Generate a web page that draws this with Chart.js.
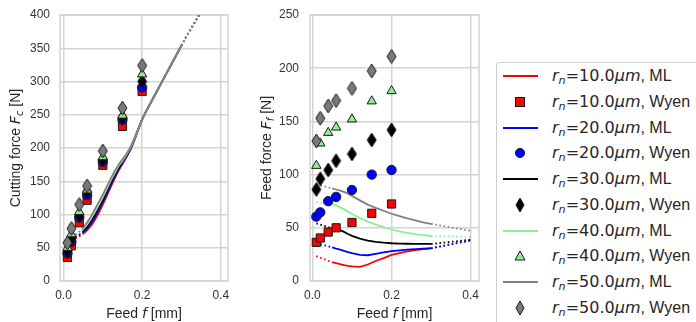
<!DOCTYPE html>
<html>
<head>
<meta charset="utf-8">
<script src="https://cdn.jsdelivr.net/npm/chart.js@4.4.1/dist/chart.umd.min.js"></script>
<style>
  html, body { margin: 0; padding: 0; background: #fff; }
  body { width: 696px; height: 322px; overflow: hidden; position: relative; font-family: 'Liberation Sans', Arial, sans-serif; }
  #fc { position: absolute; left: 0; top: 0; }
  #ff { position: absolute; left: 240px; top: 0; }
  #legend { position: absolute; left: 496px; top: 62px; width: 240px; height: 272px; border: 1px solid #cfcfcf; border-radius: 3px; background: #fff; color: #262626; }
  .row { position: absolute; left: 0; height: 24px; line-height: 24px; font-size: 16px; white-space: nowrap; }
  .key { position: absolute; left: 6px; top: 0; }
  .lab { position: absolute; left: 55px; top: 0; }
  .m { font-family: 'DejaVu Sans', sans-serif; }
  .lab sub { font-size: 70%; vertical-align: -0.3em; line-height: 0; }
</style>
</head>
<body>
<canvas id="fc" width="240" height="322"></canvas>
<canvas id="ff" width="250" height="322"></canvas>
<div id="legend"></div>

<script>
// ==================== DATA ====================

const radii = ['10.0', '20.0', '30.0', '40.0', '50.0'];

// Wyen model points (same feeds for every radius)
const feedWyen = [0.01, 0.02, 0.04, 0.06, 0.1, 0.15, 0.2];

const fcWyen10 = [35.5, 53, 87.5, 121.5, 174, 232.5, 285];
const fcWyen20 = [41.5, 59, 95.5, 129, 179, 242.5, 291];
const fcWyen30 = [45, 64, 99, 134, 182.5, 246, 300];
const fcWyen40 = [50, 70.5, 104, 136.5, 186.5, 249, 311];
const fcWyen50 = [57.5, 79, 115, 143, 195.5, 260, 324];

const ffWyen10 = [36.3, 40.4, 46, 50, 55, 63.6, 72.4];
const ffWyen20 = [60.5, 64.5, 75, 79, 85.5, 100, 104.3];
const ffWyen30 = [86, 96, 104.3, 113, 119.4, 132.5, 142];
const ffWyen40 = [108.4, 129.4, 139.4, 144.4, 152, 169, 178.6];
const ffWyen50 = [131.6, 153, 164.5, 169.5, 181, 197.4, 211];

// ML curves, cutting force
const feedMlFc = [0.03, 0.04, 0.05, 0.06, 0.07, 0.08, 0.09, 0.10, 0.11, 0.12, 0.13, 0.14, 0.15, 0.16, 0.17, 0.18, 0.19, 0.20,
  0.21, 0.22, 0.23, 0.24, 0.25, 0.26, 0.27, 0.28, 0.29, 0.30, 0.31, 0.32, 0.33, 0.34, 0.345];
const fcMl10 = [64, 67, 71, 76, 83, 92, 103, 115, 128, 141, 154, 166, 176, 186, 197, 211, 227, 243,
  255, 266, 277, 288, 299, 310, 321, 332, 343, 354, 365, 375, 385, 395, 400];
const fcMl20 = [65, 69, 73, 79, 86, 96, 107, 119, 131, 144, 157, 168, 178, 187, 198, 212, 228, 243,
  255, 266, 277, 288, 299, 310, 321, 332, 343, 354, 365, 375, 385, 395, 400];
const fcMl30 = [67, 70, 75, 82, 90, 100, 111, 122, 135, 148, 160, 170, 180, 189, 199, 213, 228, 243,
  255, 266, 277, 288, 299, 310, 321, 332, 343, 354, 365, 375, 385, 395, 400];
const fcMl40 = [68, 72, 78, 85, 94, 104, 115, 126, 138, 151, 162, 173, 181, 190, 200, 213, 228, 243,
  255, 266, 277, 288, 299, 310, 321, 332, 343, 354, 365, 375, 385, 395, 400];
const fcMl50 = [70, 74, 80, 88, 97, 108, 119, 130, 142, 154, 165, 175, 183, 191, 201, 214, 229, 243,
  255, 266, 277, 288, 299, 310, 321, 332, 343, 354, 365, 375, 385, 395, 400];

// ML curves, feed force
const feedMlFf = [0.01, 0.02, 0.03, 0.04, 0.05, 0.06, 0.07, 0.08, 0.09, 0.10, 0.12, 0.14, 0.16, 0.18, 0.20,
  0.22, 0.24, 0.26, 0.28, 0.30, 0.32, 0.34, 0.36, 0.38, 0.40];
const ffMl10 = [23.5, 22, 20.5, 19, 17.8, 16.8, 15.8, 15, 14.3, 13.8, 13.3, 15.5, 18.8, 21.5, 24.5,
  26.3, 27.8, 29, 30, 30.8, 32.3, 34, 35.5, 37, 38.5];
const ffMl20 = [35.4, 34.5, 33.6, 32.7, 31.6, 30.5, 29.5, 28.3, 27.2, 26.2, 24.6, 24.2, 25.5, 26.8, 28,
  28.8, 29.4, 29.9, 30.3, 30.7, 32.2, 33.7, 35.2, 36.6, 38];
const ffMl30 = [54.2, 53, 51.8, 50.6, 49.6, 48.8, 47.8, 46.2, 44.2, 42.4, 39.8, 38, 36.8, 36, 35.5,
  35.2, 35, 34.9, 34.8, 34.8, 35.6, 36.4, 37.2, 38, 38.8];
const ffMl40 = [73.8, 73.4, 73, 72.6, 72, 70.8, 69.2, 67.3, 65.2, 63, 59.2, 55.8, 53, 50.6, 48.4,
  46.6, 45.2, 44, 43.1, 42.3, 42.1, 41.9, 41.8, 41.7, 41.6];
const ffMl50 = [90.2, 89.6, 88.8, 88, 87, 86, 85, 83.7, 82, 80, 75.8, 71.8, 68.8, 66, 63.2,
  61, 58.8, 57, 55.2, 53.6, 52.3, 51, 49.7, 48.5, 47.3];

const xTicks = [0, 0.2, 0.4];

// ==================== STYLE ====================

const GRID = '#d4d4d4';
const TEXT = '#262626';
const EDGE = '#1a1a1a';
const lineColors = ['#ff0000', '#0000ff', '#000000', '#90ee90', '#808080'];
const markerFills = ['#ff0000', '#0000ff', '#000000', '#90ee90', '#7a7a7a'];

function thinDiamond(fill) {
  const c = document.createElement('canvas');
  c.width = 11; c.height = 16;
  const g = c.getContext('2d');
  g.beginPath();
  g.moveTo(5.5, 1); g.lineTo(10, 8); g.lineTo(5.5, 15); g.lineTo(1, 8);
  g.closePath();
  g.fillStyle = fill; g.fill();
  g.strokeStyle = EDGE; g.lineWidth = 1; g.stroke();
  return c;
}

const markerStyles = [
  { pointStyle: 'rect', radius: 5.8 },
  { pointStyle: 'circle', radius: 4.7 },
  { pointStyle: thinDiamond(markerFills[2]), radius: 5 },
  { pointStyle: 'triangle', radius: 5.4 },
  { pointStyle: thinDiamond(markerFills[4]), radius: 5 }
];

const dotted = ctx => (ctx.p1.parsed.x <= 0.05 || ctx.p0.parsed.x >= 0.3) ? [1.6, 2.6] : undefined;

function pts(xs, ys) {
  return xs.map((x, i) => ({ x: x, y: ys[i] }));
}

function mlSet(i, xs, ys) {
  return {
    label: 'rn=' + radii[i] + 'µm, ML',
    data: pts(xs, ys),
    showLine: true,
    pointRadius: 0,
    borderColor: lineColors[i],
    borderWidth: 1.8,
    segment: { borderDash: dotted },
    order: 20 - i
  };
}

function wyenSet(i, ys) {
  return {
    label: 'rn=' + radii[i] + 'µm, Wyen',
    data: pts(feedWyen, ys),
    showLine: false,
    pointStyle: markerStyles[i].pointStyle,
    pointRadius: markerStyles[i].radius,
    backgroundColor: markerFills[i],
    borderColor: EDGE,
    borderWidth: 1,
    order: 10 - i
  };
}

// ==================== TEXT HELPERS ====================

function partFont(p, size) {
  const s = p.sub ? size * 0.7 : size;
  return (p.i ? 'italic ' : '') + s + 'px ' + (p.m ? '"DejaVu Sans"' : '"Liberation Sans", Arial');
}

function drawRich(ctx, parts, size) {
  let w = 0;
  parts.forEach(p => { ctx.font = partFont(p, size); w += ctx.measureText(p.t).width; });
  let x = -w / 2;
  const base = size * 0.36;
  ctx.textBaseline = 'alphabetic';
  ctx.textAlign = 'left';
  parts.forEach(p => {
    ctx.font = partFont(p, size);
    ctx.fillText(p.t, x, p.sub ? base + size * 0.2 : base);
    x += ctx.measureText(p.t).width;
  });
}

const xTitle = [{ t: 'Feed ' }, { t: 'f', i: 1, m: 1 }, { t: ' [mm]' }];
const fcTitle = [{ t: 'Cutting force ' }, { t: 'F', i: 1, m: 1 }, { t: 'c', i: 1, m: 1, sub: 1 }, { t: ' [N]' }];
const ffTitle = [{ t: 'Feed force ' }, { t: 'F', i: 1, m: 1 }, { t: 'f', i: 1, m: 1, sub: 1 }, { t: ' [N]' }];

function framePlugin(yTitle, yTitleX) {
  return {
    id: 'frame',
    beforeDatasetsDraw(chart) {
      const { ctx, chartArea: a } = chart;
      ctx.save();
      ctx.strokeStyle = GRID;
      ctx.lineWidth = 1.5;
      ctx.strokeRect(a.left, a.top, a.right - a.left, a.bottom - a.top);
      ctx.restore();
    },
    afterDraw(chart) {
      const { ctx, chartArea: a } = chart;
      ctx.save();
      ctx.fillStyle = TEXT;
      ctx.translate((a.left + a.right) / 2, 313);
      drawRich(ctx, xTitle, 14);
      ctx.restore();
      ctx.save();
      ctx.fillStyle = TEXT;
      ctx.translate(yTitleX, (a.top + a.bottom) / 2);
      ctx.rotate(-Math.PI / 2);
      drawRich(ctx, yTitle, 14);
      ctx.restore();
    }
  };
}

function makeChart(id, datasets, opt) {
  return new Chart(document.getElementById(id), {
    type: 'scatter',
    data: { datasets: datasets },
    plugins: [framePlugin(opt.yTitle, opt.yTitleX)],
    options: {
      responsive: false,
      animation: false,
      devicePixelRatio: 1,
      layout: { padding: { left: 0, right: opt.padRight, top: 15, bottom: 0 } },
      plugins: { legend: { display: false }, tooltip: { enabled: false } },
      scales: {
        x: {
          type: 'linear',
          min: opt.xMin,
          max: opt.xMax,
          afterBuildTicks: s => { s.ticks = xTicks.map(v => ({ value: v })); },
          afterFit: s => { s.height = 41; s.paddingLeft = 0; s.paddingRight = 0; },
          grid: { color: GRID, lineWidth: 1.5, drawTicks: false },
          border: { display: false },
          ticks: {
            padding: 7,
            color: '#333',
            font: { family: 'Liberation Sans', size: 12 },
            callback: v => v.toFixed(1)
          }
        },
        y: {
          min: 0,
          max: opt.yMax,
          afterFit: s => { s.width = opt.yWidth; s.paddingTop = 0; s.paddingBottom = 0; },
          grid: { color: GRID, lineWidth: 1.5, drawTicks: false },
          border: { display: false },
          ticks: {
            stepSize: 50,
            padding: opt.tickPad,
            color: '#333',
            font: { family: 'Liberation Sans', size: 12 }
          }
        }
      }
    }
  });
}

// ==================== CHARTS ====================

const fcMl = [fcMl10, fcMl20, fcMl30, fcMl40, fcMl50];
const fcWyen = [fcWyen10, fcWyen20, fcWyen30, fcWyen40, fcWyen50];
const ffMl = [ffMl10, ffMl20, ffMl30, ffMl40, ffMl50];
const ffWyen = [ffWyen10, ffWyen20, ffWyen30, ffWyen40, ffWyen50];

const fcSets = [];
const ffSets = [];
for (let i = 0; i < radii.length; i++) {
  fcSets.push(mlSet(i, feedMlFc, fcMl[i]), wyenSet(i, fcWyen[i]));
  ffSets.push(mlSet(i, feedMlFf, ffMl[i]), wyenSet(i, ffWyen[i]));
}

makeChart('fc', fcSets, {
  xMin: -0.009, xMax: 0.4185, yMax: 400, yWidth: 60, padRight: 12, tickPad: 10,
  yTitle: fcTitle, yTitleX: 15
});
makeChart('ff', ffSets, {
  xMin: -0.006, xMax: 0.421, yMax: 250, yWidth: 70, padRight: 11, tickPad: 11,
  yTitle: ffTitle, yTitleX: 26
});

// ==================== LEGEND ====================

function keySvg(i, kind) {
  const c = lineColors[i];
  let shape;
  if (kind === 'line') {
    shape = `<line x1="0" y1="12" x2="35" y2="12" stroke="${c}" stroke-width="2"/>`;
  } else {
    const f = markerFills[i];
    const st = `fill="${f}" stroke="${EDGE}" stroke-width="1"`;
    if (i === 0) shape = `<rect x="12.5" y="7.5" width="9" height="9" ${st}/>`;
    else if (i === 1) shape = `<circle cx="17" cy="12" r="4.6" ${st}/>`;
    else if (i === 3) shape = `<polygon points="17,7 22,16 12,16" ${st}/>`;
    else shape = `<polygon points="17,5 21,12 17,19 13,12" ${st}/>`;
  }
  return `<svg width="36" height="24" viewBox="0 0 36 24">${shape}</svg>`;
}

const legend = document.getElementById('legend');
let html = '';
let row = 0;
for (let i = 0; i < radii.length; i++) {
  ['ML', 'Wyen'].forEach(name => {
    const top = 1 + row * 25.75;
    html += `<div class="row" style="top:${top}px">` +
      `<span class="key">${keySvg(i, name === 'ML' ? 'line' : 'marker')}</span>` +
      `<span class="lab"><span class="m"><i>r</i><sub><i>n</i></sub>=${radii[i]}<i>μm</i></span>, ${name}</span>` +
      `</div>`;
    row++;
  });
}
legend.innerHTML = html;
</script>
</body>
</html>
